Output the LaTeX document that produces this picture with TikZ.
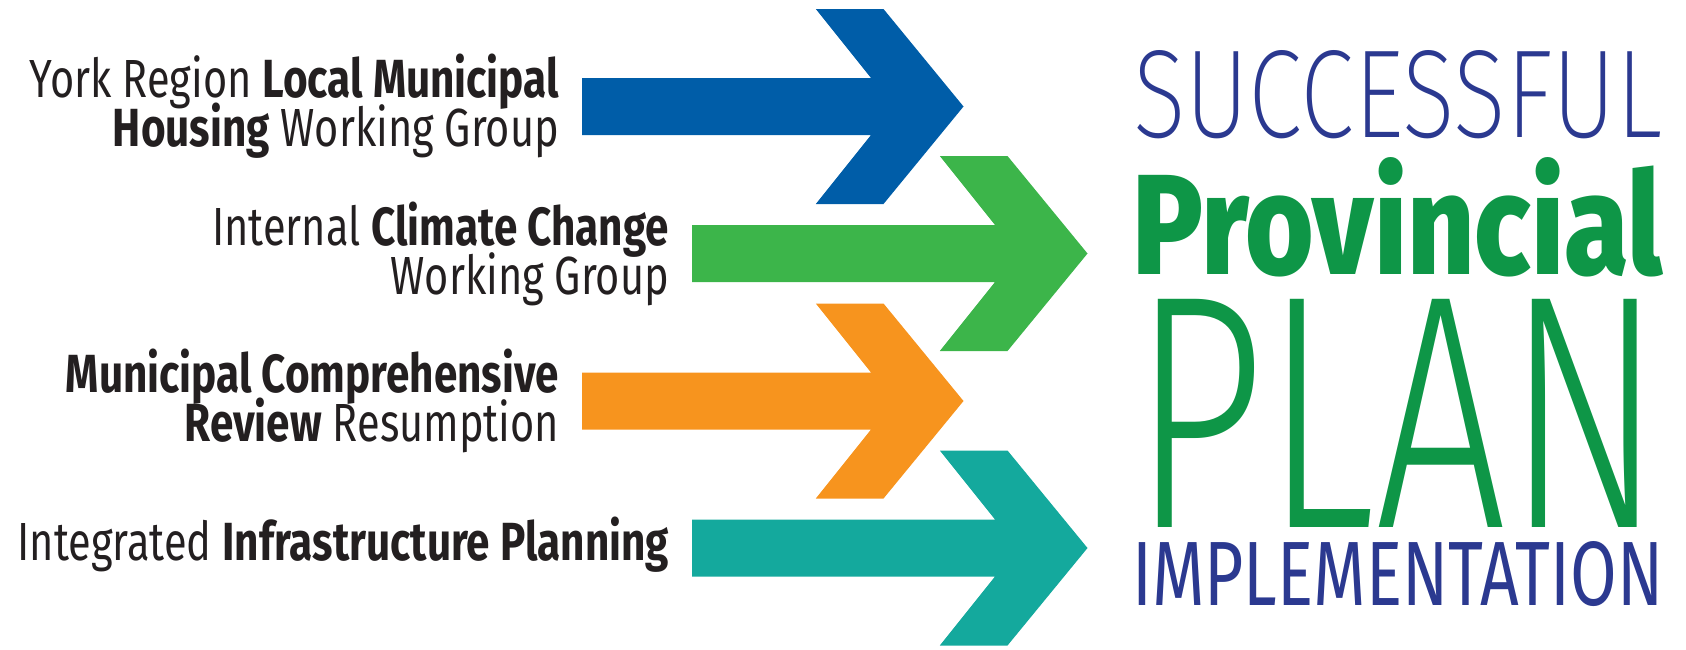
\documentclass[tikz,border=0pt]{standalone}
\usepackage{fontspec}
\setmainfont{Fira Sans}
\newfontfamily\labelfont{Fira Sans}[FakeStretch=0.773]
\newfontfamily\labelbold{Fira Sans Bold}[FakeStretch=0.787]
\newfontfamily\lightfont{Fira Sans Light}
\newfontfamily\thinfont{Fira Sans ExtraLight}
\newfontfamily\heavyfont{Fira Sans ExtraBold}
\newcommand\keyword[1]{{\labelbold #1}}
\usetikzlibrary{positioning}

\definecolor{arrowblue}{HTML}{005DA8}
\definecolor{arrowgreen}{HTML}{3CB54A}
\definecolor{arroworange}{HTML}{F7941E}
\definecolor{arrowteal}{HTML}{14A99D}
\definecolor{titleblue}{HTML}{2B3990}
\definecolor{titlegreen}{HTML}{0E9647}
\definecolor{textgrey}{HTML}{231F20}

\begin{document}
\begin{tikzpicture}[x=0.5pt,y=-0.5pt]
        \tikzstyle{every node}=[inner sep=0pt, outer sep=0pt]
        \tikzstyle{group}=[align=right, text=textgrey, font={\labelfont\fontsize{26.85pt}{24.5pt}\selectfont\lineskiplimit=-30pt}]
        \tikzstyle{titleline}=[inner sep=0pt]
        \useasboundingbox (0,0) rectangle (1686,649);
        % arrows
        \coordinate (a1) at (582,106.5);
        \coordinate (a2) at (692,253.5);
        \coordinate (a3) at (582,401);
        \coordinate (a4) at (692,548);
        \fill[arrowblue] (a1) ++(0,-28.5) -- ++(289,0) -- ++(-55.2,-69) -- ++(67.7,0) -- ++(80,97.5) -- ++(-80,97.5) -- ++(-67.7,0) -- ++(55.2,-69) -- ++(-289,0) -- cycle;
        \fill[arrowgreen] (a2) ++(0,-28.5) -- ++(303,0) -- ++(-55.2,-69) -- ++(67.7,0) -- ++(80,97.5) -- ++(-80,97.5) -- ++(-67.7,0) -- ++(55.2,-69) -- ++(-303,0) -- cycle;
        \fill[arroworange] (a3) ++(0,-28.5) -- ++(289,0) -- ++(-55.2,-69) -- ++(67.7,0) -- ++(80,97.5) -- ++(-80,97.5) -- ++(-67.7,0) -- ++(55.2,-69) -- ++(-289,0) -- cycle;
        \fill[arrowteal] (a4) ++(0,-28.5) -- ++(303,0) -- ++(-55.2,-69) -- ++(67.7,0) -- ++(80,97.5) -- ++(-80,97.5) -- ++(-67.7,0) -- ++(55.2,-69) -- ++(-303,0) -- cycle;
        % working groups
        \node[group, left=11.5pt of a1](housing){York Region \keyword{Local Municipal}\\\keyword{Housing} Working Group};
        \node[group, left=11.5pt of a2](climate){Internal \keyword{Climate Change}\\Working Group};
        \node[group, left=11.5pt of a3](review){\keyword{Municipal Comprehensive}\\\keyword{Review} Resumption};
        \node[group, left=11.5pt of a4, yshift=1.5pt](infra){Integrated \keyword{Infrastructure Planning}};
        % title
        \node[titleline, anchor=south west, text=titleblue](succ) at (1133,139){\resizebox{264.5pt}{43.5pt}{\thinfont SUCCESSFUL}};
        \node[titleline, below=9pt of succ, text=titlegreen](prov){\resizebox{265pt}{58.5pt}{\heavyfont Provincial}};
        \node[titleline, below=11.5pt of prov, text=titlegreen](plan){\resizebox{265.5pt}{114pt}{\lightfont PLAN}};
        \node[titleline, below=7pt of plan, text=titleblue](impl){\resizebox{265.5pt}{32pt}{IMPLEMENTATION}};
\end{tikzpicture}
\end{document}
